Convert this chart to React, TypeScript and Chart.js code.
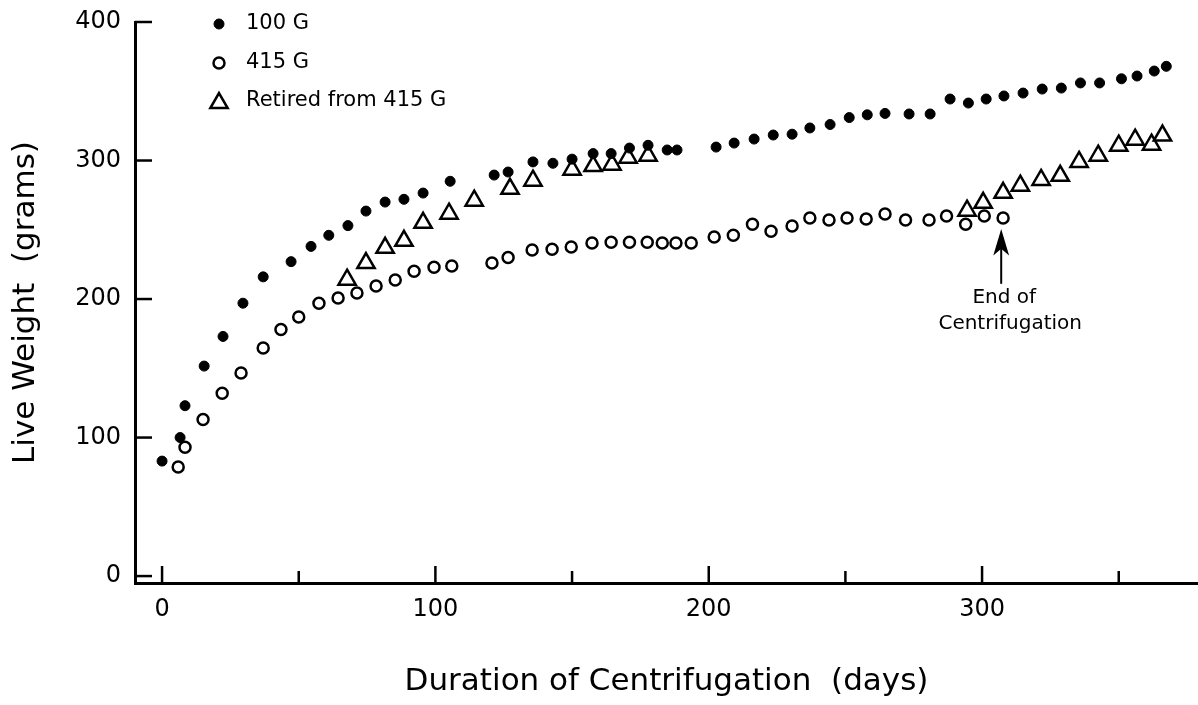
import React, { useEffect, useRef } from 'react';
import { Chart, registerables } from 'chart.js';

Chart.register(...registerables);

// ---- data ----
const days100 = [0, 6.6, 8.4, 15.4, 22.3, 29.6, 37, 47.2, 54.5, 61, 68, 74.6, 81.6, 88.5, 95.5, 105.4, 121.5, 126.6, 135.7, 143, 150, 157.7, 164.3, 171, 177.8, 184.8, 188.4, 202.7, 209.3, 216.6, 223.6, 230.5, 237, 244.4, 251.4, 258, 264.5, 273.3, 281, 288.3, 295, 301.5, 308, 315, 322, 329, 336, 343, 351, 356.7, 363, 367.4];
const weights100 = [83, 100, 123, 151.6, 173, 197, 216, 227, 238, 246, 253, 263.5, 270, 272, 276.5, 285, 289.5, 291.7, 299, 298, 301, 305, 305, 309, 311, 307.6, 307.6, 309.7, 312.6, 315.5, 318.4, 319, 323.5, 326, 331, 333, 334, 333.6, 333.6, 344.4, 341.5, 344.4, 346.6, 348.7, 351.6, 352.3, 356, 356, 359, 361, 364.6, 368];

const days415 = [5.9, 8.4, 15, 22, 28.9, 37, 43.5, 50, 57.4, 64.4, 71.3, 78.3, 85.3, 92.2, 99.5, 106, 120.7, 126.6, 135.4, 142.7, 149.7, 157.3, 164.3, 171, 177.5, 183, 188, 193.6, 202, 209, 216, 222.8, 230.5, 237, 244, 250.6, 257.6, 264.5, 272, 280.6, 287, 294, 300.8, 307.7];
const weights415 = [78.7, 93, 113, 132, 146.6, 164.6, 178, 187, 197, 200.7, 204.3, 209.4, 213.7, 220, 223, 223.8, 226, 230, 235.4, 236, 237.5, 240.4, 241, 241, 241, 240.4, 240.4, 240.4, 244.8, 246, 254, 249, 252.7, 258.5, 257, 258.5, 257.8, 261.4, 257, 257, 260, 254, 260, 258.5];

const daysRetired = [67.7, 74.6, 81.6, 88.5, 95.5, 105, 114.2, 127.3, 135.7, 150, 157.7, 164.6, 170.5, 177.8, 294.5, 300.4, 307.7, 314, 321.6, 328.6, 335.5, 342.5, 350, 356, 362, 366];
const weightsRetired = [214, 226, 237, 242, 255, 261.6, 271, 279.6, 285.4, 293.4, 296, 297, 302, 303.5, 263.8, 269.5, 276.7, 281.8, 286, 289, 299, 303.5, 310.7, 315, 311.4, 318];

const xTickValues = [0, 50, 100, 150, 200, 250, 300, 350];
const xLabelValues = [0, 100, 200, 300];
const yTickValues = [0, 100, 200, 300, 400];
const legendLabels = ['100 G', '415 G', 'Retired from 415 G'];
const annotationLines = ['End of', 'Centrifugation'];
const endDay = 307;
const arrowFromWeight = 211;
const arrowToWeight = 248;
const xTitle = 'Duration of Centrifugation  (days)';
const yTitle = 'Live Weight  (grams)';

const FONT = "'DejaVu Sans', 'Liberation Sans', sans-serif";

function drawMarker(ctx: CanvasRenderingContext2D, style: string, x: number, y: number, r: number, fill: string | null, lw: number) {
  ctx.beginPath();
  if (style === 'triangle') {
    let rad = 0;
    ctx.moveTo(x + Math.sin(rad) * r, y - Math.cos(rad) * r);
    rad += (2 * Math.PI) / 3;
    ctx.lineTo(x + Math.sin(rad) * r, y - Math.cos(rad) * r);
    rad += (2 * Math.PI) / 3;
    ctx.lineTo(x + Math.sin(rad) * r, y - Math.cos(rad) * r);
    ctx.closePath();
  } else {
    ctx.arc(x, y, r, 0, Math.PI * 2);
  }
  if (fill) {
    ctx.fillStyle = fill;
    ctx.fill();
  }
  ctx.lineWidth = lw;
  ctx.strokeStyle = '#000';
  ctx.stroke();
}

const decorPlugin = {
  id: 'decor',
  afterDraw(chart: any) {
    const { ctx, chartArea, scales } = chart;
    const x = scales.x;
    const y = scales.y;
    ctx.save();
    ctx.strokeStyle = '#000';
    ctx.lineWidth = 2.5;
    // inward ticks
    xTickValues.forEach((v) => {
      const px = x.getPixelForValue(v);
      const len = v % 100 === 0 ? 17 : 12;
      ctx.beginPath();
      ctx.moveTo(px, chartArea.bottom);
      ctx.lineTo(px, chartArea.bottom - len);
      ctx.stroke();
    });
    yTickValues.forEach((v) => {
      const py = y.getPixelForValue(v);
      ctx.beginPath();
      ctx.moveTo(chartArea.left, py);
      ctx.lineTo(chartArea.left + 17, py);
      ctx.stroke();
    });

    // legend
    const ds = chart.data.datasets;
    const lx = chartArea.left + 84;
    const tx = chartArea.left + 111;
    const ly = [chartArea.top + 2, chartArea.top + 41, chartArea.top + 79];
    ctx.font = `21px ${FONT}`;
    ctx.fillStyle = '#000';
    ctx.textBaseline = 'middle';
    ctx.textAlign = 'left';
    legendLabels.forEach((lab, i) => {
      const d = ds[i];
      drawMarker(ctx, d.pointStyle, lx, ly[i] + (d.pointStyle === 'triangle' ? 2 : 0), d.pointRadius, d.backgroundColor === 'transparent' ? null : d.backgroundColor, d.borderWidth);
      ctx.fillStyle = '#000';
      ctx.fillText(lab, tx, ly[i]);
    });

    // annotation arrow
    const ax = x.getPixelForValue(endDay);
    const ay0 = y.getPixelForValue(arrowFromWeight);
    const ay1 = y.getPixelForValue(arrowToWeight);
    ctx.lineWidth = 2;
    ctx.beginPath();
    ctx.moveTo(ax, ay0);
    ctx.lineTo(ax, ay1 + 14);
    ctx.stroke();
    ctx.beginPath();
    ctx.moveTo(ax, ay1);
    ctx.lineTo(ax - 6, ay1 + 20);
    ctx.lineTo(ax, ay1 + 15);
    ctx.lineTo(ax + 6, ay1 + 20);
    ctx.closePath();
    ctx.fillStyle = '#000';
    ctx.fill();
    ctx.stroke();

    ctx.font = `20px ${FONT}`;
    ctx.textAlign = 'center';
    ctx.textBaseline = 'middle';
    ctx.fillText(annotationLines[0], ax + 3, ay0 + 14);
    ctx.fillText(annotationLines[1], ax + 9, ay0 + 40);
    ctx.restore();
  },
};

export default function App() {
  const canvasRef = useRef<HTMLCanvasElement | null>(null);

  useEffect(() => {
    if (!canvasRef.current) return;
    const toPts = (xs: number[], ys: number[]) => xs.map((v, i) => ({ x: v, y: ys[i] }));
    const zeroPad = (s: any) => {
      s.paddingLeft = 0;
      s.paddingRight = 0;
      s.paddingTop = 0;
      s.paddingBottom = 0;
    };
    const chart = new Chart(canvasRef.current, {
      type: 'scatter',
      data: {
        datasets: [
          {
            label: legendLabels[0],
            data: toPts(days100, weights100),
            pointStyle: 'circle',
            pointRadius: 5,
            backgroundColor: '#000',
            borderColor: '#000',
            borderWidth: 1,
          },
          {
            label: legendLabels[1],
            data: toPts(days415, weights415),
            pointStyle: 'circle',
            pointRadius: 5.5,
            backgroundColor: 'transparent',
            borderColor: '#000',
            borderWidth: 2.5,
          },
          {
            label: legendLabels[2],
            data: toPts(daysRetired, weightsRetired),
            pointStyle: 'triangle',
            pointRadius: 10,
            backgroundColor: 'transparent',
            borderColor: '#000',
            borderWidth: 2.5,
          },
        ] as any,
      },
      options: {
        responsive: false,
        animation: false,
        devicePixelRatio: 1,
        layout: { autoPadding: false, padding: { top: 22, left: 0, right: 0, bottom: 0 } },
        plugins: {
          legend: { display: false },
          tooltip: { enabled: false },
        },
        scales: {
          x: {
            type: 'linear',
            min: -9.9,
            max: 379,
            afterBuildTicks: (s: any) => {
              s.ticks = xTickValues.map((v) => ({ value: v }));
            },
            afterFit: (s: any) => {
              s.height = 122;
              zeroPad(s);
            },
            grid: { display: true, drawOnChartArea: false, drawTicks: false },
            border: { display: true, width: 3, color: '#000' },
            ticks: {
              color: '#000',
              font: { family: FONT, size: 24 },
              padding: 12,
              maxRotation: 0,
              autoSkip: false,
              callback: (v: any) => (xLabelValues.includes(Number(v)) ? String(v) : ''),
            },
            title: {
              display: true,
              text: xTitle,
              color: '#000',
              font: { family: FONT, size: 31 },
              padding: { top: 0, bottom: 4 },
            },
          },
          y: {
            type: 'linear',
            min: -5,
            max: 400,
            afterBuildTicks: (s: any) => {
              s.ticks = yTickValues.map((v) => ({ value: v }));
            },
            afterFit: (s: any) => {
              s.width = 135;
              zeroPad(s);
            },
            grid: { display: true, drawOnChartArea: false, drawTicks: false },
            border: { display: true, width: 3, color: '#000' },
            ticks: {
              color: '#000',
              font: { family: FONT, size: 24 },
              padding: 14,
              autoSkip: false,
            },
            title: {
              display: true,
              text: yTitle,
              color: '#000',
              font: { family: FONT, size: 31 },
              padding: { top: 7, bottom: 0 },
            },
          },
        },
      },
      plugins: [decorPlugin],
    });
    return () => chart.destroy();
  }, []);

  return (
    <div style={{ position: 'fixed', left: 0, top: 0, width: 1198, height: 705, background: '#fff' }}>
      <canvas ref={canvasRef} width={1198} height={705} style={{ display: 'block', width: 1198, height: 705 }} />
    </div>
  );
}
